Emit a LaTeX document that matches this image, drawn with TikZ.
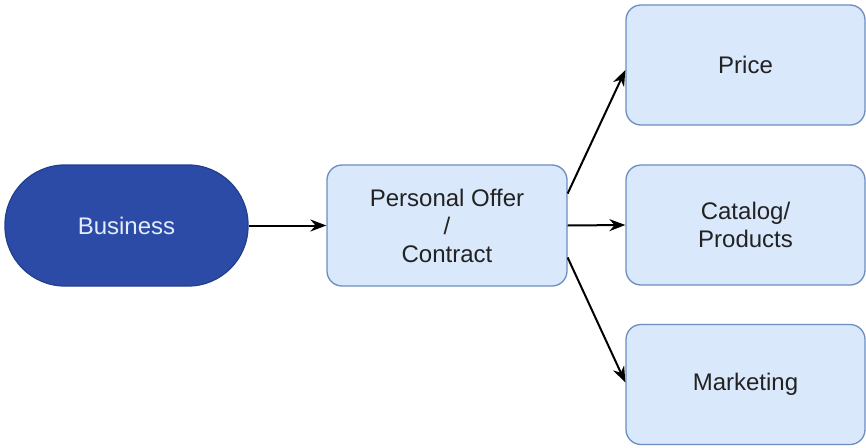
\documentclass[tikz,border=0pt]{standalone}
\usepackage{fontspec}
\setmainfont{Liberation Sans}
\usetikzlibrary{arrows.meta}
\definecolor{boxfill}{HTML}{DAE8FC}
\definecolor{boxline}{HTML}{6C8EBF}
\definecolor{darkfill}{HTML}{2B4BA6}
\definecolor{darkline}{HTML}{23408F}
\definecolor{lighttext}{HTML}{E4ECFA}
\definecolor{inktext}{HTML}{222222}
\tikzset{
  lightbox/.style={draw=boxline, fill=boxfill, line width=1.3pt, rounded corners=15pt,
    minimum width=239pt, minimum height=120pt, inner sep=0pt, align=center,
    text=inktext, font=\fontsize{24}{28}\selectfont},
  startbox/.style={draw=darkline, fill=darkfill, line width=1.3pt, rounded corners=60pt,
    minimum width=243pt, minimum height=121pt, inner sep=0pt, align=center,
    text=lighttext, font=\fontsize{24}{28}\selectfont},
  link/.style={-{Stealth[length=16pt,width=12pt]}, line width=2pt, black}
}
\begin{document}
\begin{tikzpicture}[x=1pt,y=-1pt]
  \useasboundingbox[fill=white] (0,0) rectangle (866,447);
  \node[startbox] (biz) at (126.5,225.5) {Business};
  \node[lightbox, minimum width=240pt, minimum height=121pt] (offer) at (447,225.5) {Personal Offer\\/\\Contract};
  \node[lightbox] (price) at (745.5,65) {Price};
  \node[lightbox] (cat) at (745.5,225) {Catalog/\\Products};
  \node[lightbox] (mkt) at (745.5,384.5) {Marketing};
  \draw[link] (biz.east) -- (offer.west);
  \draw[link] (offer.east) -- (cat.west);
  \draw[link] ([yshift=32pt]offer.east) -- ([yshift=-5pt]price.west);
  \draw[link] ([yshift=-32pt]offer.east) -- ([yshift=2pt]mkt.west);
\end{tikzpicture}
\end{document}
